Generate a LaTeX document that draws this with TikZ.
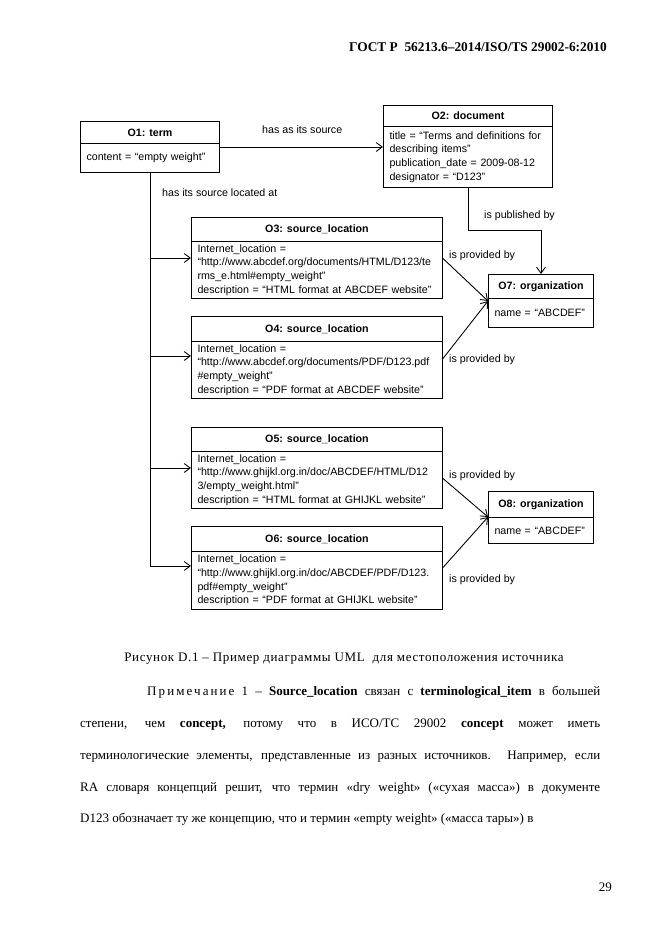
\documentclass[tikz,border=0pt]{standalone}
\usepackage{fontspec}
\setmainfont{Liberation Serif}
\newfontfamily\diagfont{Liberation Sans}
\newfontfamily\capfont[LetterSpace=5]{Liberation Serif}
\newfontfamily\pagefont{Liberation Serif}
\newfontfamily\hdrfont{Liberation Serif}
\usetikzlibrary{arrows.meta}
\tikzset{
  hdr/.style={draw, line width=0.9pt, anchor=north west, inner sep=0pt,
    font=\diagfont\bfseries\fontsize{9.6}{12}\selectfont},
  attr/.style={draw, line width=0.9pt, anchor=north west, inner xsep=5.4pt, inner ysep=0pt,
    align=left, font=\diagfont\fontsize{9.6}{12.2}\selectfont},
  lbl/.style={anchor=base west, inner sep=0pt, font=\diagfont\fontsize{9.6}{12}\selectfont},
  conn/.style={line width=0.8pt},
  arr/.style={conn, -{Straight Barb[length=5.5pt,width=8pt]}},
  ptext/.style={anchor=base west, inner sep=0pt, font=\pagefont\fontsize{11.7}{14}\selectfont},
}
\begin{document}
\begin{tikzpicture}[x=0.9pt,y=-0.9pt]
\fill[white] (0,0) rectangle (661,935);
\useasboundingbox (0,0) rectangle (661,935);

% page header
\node[anchor=base east, inner sep=0pt, font=\hdrfont\bfseries\fontsize{12}{14}\selectfont] (hd) at (607,51)
  {ГОСТ Р\ \ 56213.6–2014/ISO/TS 29002-6:2010};

% O1
\node[hdr, minimum width=125.1pt, minimum height=19.8pt] (o1h) at (80,121) {O1: term};
\node[attr, text width=114.3pt, minimum height=26.1pt] (o1b) at (80,143) {content = “empty weight”};
% O2
\node[hdr, minimum width=152.1pt, minimum height=18.9pt] (o2h) at (383,105) {O2: document};
\node[attr, text width=141.3pt, minimum height=54.9pt] (o2b) at (383,126)
  {title = “Terms and definitions for\\describing items”\\publication\_date = 2009-08-12\\designator = “D123”};
% O3
\node[hdr, minimum width=225.9pt, minimum height=21.6pt] (o3h) at (191,217) {O3: source\_location};
\node[attr, text width=215.1pt, minimum height=51.3pt] (o3b) at (191,241)
  {Internet\_location =\\“http://www.abcdef.org/documents/HTML/D123/te\\rms\_e.html\#empty\_weight”\\description = “HTML format at ABCDEF website”};
% O4
\node[hdr, minimum width=225.9pt, minimum height=22.5pt] (o4h) at (191,316) {O4: source\_location};
\node[attr, text width=215.1pt, minimum height=51.3pt] (o4b) at (191,341)
  {Internet\_location =\\“http://www.abcdef.org/documents/PDF/D123.pdf\\\#empty\_weight”\\description = “PDF format at ABCDEF website”};
% O5
\node[hdr, minimum width=225.9pt, minimum height=21.6pt] (o5h) at (191,427) {O5: source\_location};
\node[attr, text width=215.1pt, minimum height=51.3pt] (o5b) at (191,451)
  {Internet\_location =\\“http://www.ghijkl.org.in/doc/ABCDEF/HTML/D12\\3/empty\_weight.html”\\description = “HTML format at GHIJKL website”};
% O6
\node[hdr, minimum width=225.9pt, minimum height=22.5pt] (o6h) at (191,526) {O6: source\_location};
\node[attr, text width=215.1pt, minimum height=52.2pt] (o6b) at (191,551)
  {Internet\_location =\\“http://www.ghijkl.org.in/doc/ABCDEF/PDF/D123.\\pdf\#empty\_weight”\\description = “PDF format at GHIJKL website”};
% O7
\node[hdr, minimum width=94.5pt, minimum height=21.6pt] (o7h) at (488,274) {O7: organization};
\node[attr, text width=83.7pt, minimum height=26.1pt] (o7b) at (488,298) {name = “ABCDEF”};
% O8
\node[hdr, minimum width=94.5pt, minimum height=23.4pt] (o8h) at (488,491) {O8: organization};
\node[attr, text width=83.7pt, minimum height=23.4pt] (o8b) at (488,517) {name = “ABCDEF”};

% connectors
\coordinate (c12) at (300,147);
\draw[arr] (o1b.east |- c12) -- (o2b.west |- c12);
\node[lbl] (l12) at (262,133) {has as its source};

\coordinate (b3) at (150,258);
\coordinate (b4) at (150,356);
\coordinate (b5) at (150,468);
\coordinate (b6) at (150,566);
\draw[arr] (o1b.south -| b6) -- (b6) -- (b6 -| o6b.west);
\draw[arr] (b3) -- (b3 -| o3b.west);
\draw[arr] (b4) -- (b4 -| o4b.west);
\draw[arr] (b5) -- (b5 -| o5b.west);
\node[lbl] (l1t) at (162,196) {has its source located at};

\coordinate (p1) at (468,230);
\coordinate (p2) at (541,230);
\draw[arr] (o2b.south -| p1) -- (p1) -- (p2) -- (o7h.north -| p2);
\node[lbl] (l27) at (484,218.5) {is published by};

\draw[arr] ([yshift=10.35pt]o3b.east) -- ([yshift=-2.7pt]o7b.north west);
\draw[arr] ([yshift=10.35pt]o4b.east) -- ([yshift=-2.7pt]o7b.north west);
\draw[arr] ([yshift=1.35pt]o5b.east) -- (o8b.north west);
\draw[arr] ([yshift=11.7pt]o6b.east) -- (o8b.north west);
\node[lbl] (l37) at (449,258) {is provided by};
\node[lbl] (l47) at (449,362.5) {is provided by};
\node[lbl] (l58) at (449,478) {is provided by};
\node[lbl] (l68) at (449,582.5) {is provided by};

% caption and note
\node[anchor=base, inner sep=0pt, font=\capfont\fontsize{11.7}{14}\selectfont] (cap) at (344,661)
  {Рисунок D.1 – Пример диаграммы UML\ \ для местоположения источника};
\node[ptext] (n1) at (147,695) {\makebox[407.7pt][s]{{\addfontfeature{LetterSpace=16}Примечание} 1 – \textbf{Source\_location} связан с \textbf{terminological\_item} в большей}};
\node[ptext] (n2) at (80,727) {\makebox[468pt][s]{степени, чем \textbf{concept,} потому что в ИСО/ТС 29002 \textbf{concept} может иметь}};
\node[ptext] (n3) at (80,759) {\makebox[468pt][s]{терминологические элементы, представленные из разных источников. Например, если}};
\node[ptext] (n4) at (80,791) {\makebox[468pt][s]{RA словаря концепций решит, что термин «dry weight» («сухая масса») в документе}};
\node[ptext] (n5) at (80,822) {D123 обозначает ту же концепцию, что и термин «empty weight» («масса тары») в};

\node[anchor=base east, inner sep=0pt, font=\pagefont\fontsize{11.7}{14}\selectfont] (pg) at (612,891) {29};
\end{tikzpicture}
\end{document}
